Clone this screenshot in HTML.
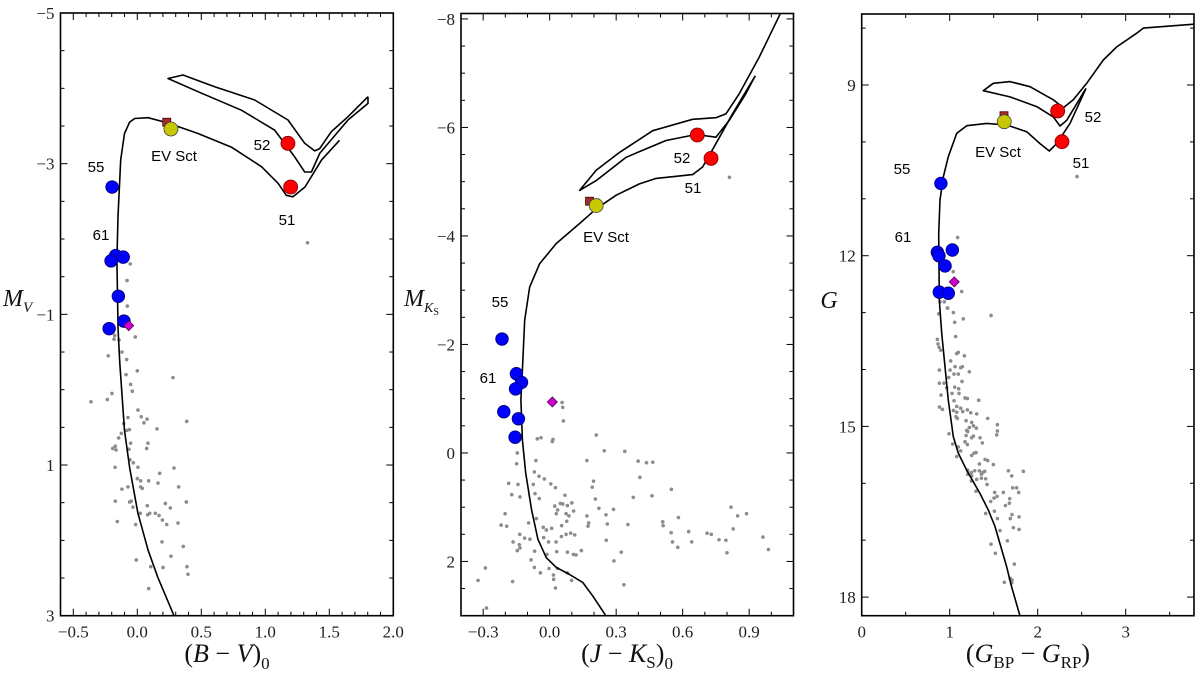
<!DOCTYPE html>
<html><head><meta charset="utf-8"><style>
html,body{margin:0;padding:0;background:#fff;}
svg{display:block;}
.tk{font-family:"Liberation Serif","DejaVu Serif",serif;font-size:17px;fill:#222;}
.lb{font-family:"Liberation Sans",sans-serif;font-size:15px;fill:#000;}
.ax{font-family:"Liberation Serif","DejaVu Serif",serif;fill:#111;}
</style></head><body>
<svg id="fig" width="1200" height="679" viewBox="0 0 1200 679" xmlns="http://www.w3.org/2000/svg"></svg>
<script>
// ---------- Panel 1: (B-V)0 vs M_V ----------
const p1IsoMain=[[0.287,3.0],[0.16,2.49],[0.084,2.13],[0.005,1.64],[-0.06,1.03],[-0.1,0.54],[-0.137,-0.35],[-0.15,-0.79],[-0.159,-1.72],[-0.151,-2.3],[-0.13,-3.05],[-0.1,-3.4],[-0.06,-3.55],[-0.02,-3.6],[0.084,-3.61],[0.24,-3.54],[0.474,-3.40],[0.734,-3.22],[0.97,-2.96],[1.1,-2.74],[1.164,-2.58],[1.216,-2.56],[1.31,-2.69],[1.44,-3.05],[1.58,-3.31]];
const p1IsoLoop=[[1.802,-3.889],[1.646,-3.623],[1.516,-3.424],[1.425,-3.20],[1.386,-3.17],[1.308,-3.27],[1.177,-3.58],[0.917,-3.845],[0.605,-4.02],[0.357,-4.177],[0.24,-4.13],[0.474,-3.955],[0.813,-3.71],[1.073,-3.446],[1.23,-3.09],[1.308,-2.89],[1.36,-2.89],[1.425,-3.137],[1.646,-3.58],[1.802,-3.80],[1.802,-3.889]];
const p1GrayX=[-0.177,-0.182,-0.143,-0.016,-0.227,-0.12,-0.083,0.0,-0.088,0.279,-0.052,-0.039,-0.198,-0.234,-0.362,0.005,-0.073,0.031,0.076,0.052,0.386,-0.106,0.154,-0.062,-0.083,-0.125,-0.146,-0.052,0.083,-0.172,-0.065,-0.166,-0.192,0.073,-0.057,-0.031,-0.174,0.005,0.287,0.175,0,0.026,0.089,0.162,-0.073,0.026,0.039,0.323,-0.12,-0.172,-0.06,-0.047,-0.034,0.078,0.219,0.258,0.383,0.023,0.081,0.097,0.141,0.17,0.196,0.23,0.318,-0.156,-0.013,0.193,0.359,0.263,-0.008,0.105,0.201,0.388,0.396,0.089,-0.055,-0.08,-0.078,1.33];
const p1GrayY=[-0.72,-0.67,-0.66,-0.70,-0.45,-0.50,-0.40,-0.25,-0.20,-0.16,-0.07,0.02,0.05,0.13,0.16,0.27,0.37,0.36,0.39,0.44,0.42,0.45,0.52,0.53,0.54,0.58,0.64,0.71,0.71,0.75,0.79,0.80,0.78,0.78,0.93,0.97,1.03,1.03,1.04,1.11,1.18,1.21,1.21,1.24,1.29,1.29,1.31,1.29,1.32,1.48,1.49,1.48,1.56,1.54,1.51,1.57,1.49,1.64,1.66,1.64,1.64,1.67,1.73,1.79,1.77,1.75,1.79,2.02,2.08,2.21,2.26,2.35,2.36,2.35,2.45,2.64,-1.67,-1.45,-1.11,-1.95];
const p1BlueX=[-0.197,-0.169,-0.11,-0.205,-0.148,-0.104,-0.22];
const p1BlueY=[-2.69,-1.78,-1.76,-1.71,-1.24,-0.91,-0.81];
const p1Red=[[1.177,-3.27],[1.198,-2.69]];
const p1Ev=[0.263,-3.46], p1Sq=[0.23,-3.55], p1Dia=[-0.067,-0.85];

// ---------- Panel 2: (J-Ks)0 vs M_Ks ----------
const p2IsoMain=[[0.252,2.99],[0.195,2.64],[0.15,2.39],[0.09,2.24],[0.03,2.11],[-0.015,1.93],[-0.053,1.59],[-0.082,1.04],[-0.108,0.37],[-0.123,-0.24],[-0.13,-0.98],[-0.123,-1.53],[-0.1125,-2.45],[-0.09,-3.06],[-0.045,-3.49],[0.03,-3.86],[0.135,-4.23],[0.21,-4.50],[0.30,-4.75],[0.405,-4.96],[0.48,-5.06],[0.645,-5.13],[0.69,-5.27],[0.75,-5.70],[0.825,-6.25],[0.927,-6.95]];
const p2IsoLoop=[[1.043,-8.12],[0.945,-7.29],[0.855,-6.62],[0.795,-6.25],[0.75,-6.18],[0.645,-6.15],[0.465,-5.94],[0.315,-5.54],[0.21,-5.21],[0.135,-4.84],[0.21,-5.02],[0.345,-5.45],[0.525,-5.76],[0.66,-5.87],[0.75,-5.82],[0.81,-6.13],[0.885,-6.62],[0.927,-6.95]];
const p2GrayX=[0.056,0.059,0.062,0.21,-0.056,-0.039,0.012,0.015,0.246,0.339,-0.146,-0.062,0.168,0.399,0.437,0.465,-0.149,-0.069,-0.048,-0.024,0.407,0.198,-0.185,-0.143,-0.074,0.005,0.026,0.192,0.549,-0.171,-0.134,-0.066,-0.047,0.069,0.377,0.462,0.206,0.048,0.059,0.08,0.10,0.023,0.222,0.288,0.818,0.036,0.108,0.03,0.074,0.087,0.168,0.254,-0.201,0.848,0.888,0.581,-0.06,-0.095,0.077,0.176,0.26,0.353,0.51,0.512,-0.219,-0.194,-0.029,-0.015,0.009,0.054,0.173,-0.135,0.074,0.095,0.113,0.548,0.627,0.71,0.729,0.828,0.962,-0.113,-0.089,-0.027,0.053,-0.005,0.029,0.255,0.554,0.641,0.764,0.795,-0.165,-0.137,-0.134,-0.146,-0.068,-0.012,0.032,0.08,0.107,0.119,0.143,0.578,0.323,0.80,0.987,-0.084,0.29,-0.069,-0.003,0.035,-0.042,-0.29,0.017,0.08,0.018,-0.323,-0.167,0.099,0.335,0.026,-0.285,0.811];
const p2GrayY=[-0.93,-0.84,-0.59,-0.33,-0.26,-0.28,-0.21,-0.25,-0.04,-0.03,0.0,0.14,0.14,0.15,0.18,0.17,0.20,0.35,0.43,0.48,0.45,0.52,0.56,0.58,0.58,0.57,0.64,0.63,0.67,0.77,0.81,0.75,0.84,0.78,0.82,0.79,0.85,0.93,0.94,0.97,0.92,0.98,1.02,1.04,1.00,1.05,1.07,1.12,1.12,1.16,1.16,1.14,1.12,1.16,1.12,1.19,1.21,1.29,1.26,1.29,1.31,1.32,1.27,1.34,1.33,1.35,1.37,1.42,1.39,1.34,1.35,1.50,1.50,1.48,1.51,1.47,1.45,1.48,1.50,1.40,1.55,1.57,1.59,1.56,1.54,1.64,1.64,1.61,1.64,1.64,1.60,1.61,1.64,1.69,1.75,1.80,1.81,1.87,1.82,1.83,1.87,1.88,1.80,1.74,1.83,1.84,1.78,1.97,1.99,2.11,2.13,2.13,2.21,2.12,2.25,2.21,2.33,2.35,2.37,2.35,2.43,2.49,2.86,-5.08];
const p2BlueX=[-0.215,-0.15,-0.127,-0.154,-0.207,-0.141,-0.156];
const p2BlueY=[-2.10,-1.46,-1.30,-1.18,-0.76,-0.63,-0.29];
const p2Red=[[0.666,-5.86],[0.728,-5.43]];
const p2Ev=[0.21,-4.56], p2Sq=[0.18,-4.64], p2Dia=[0.012,-0.94];

// ---------- Panel 3: (G_BP-G_RP) vs G ----------
const p3IsoMain=[[1.80,18.34],[1.70,17.8],[1.648,17.47],[1.515,16.76],[1.439,16.47],[1.344,16.18],[1.193,15.77],[1.098,15.47],[1.041,15.18],[0.984,14.54],[0.947,13.95],[0.909,13.36],[0.882,12.78],[0.875,11.61],[0.89,11.02],[0.928,10.61],[0.984,10.26],[1.08,9.85],[1.193,9.715],[1.42,9.674],[1.648,9.703],[1.875,9.82],[2.026,10.03],[2.132,10.16],[2.216,10.03],[2.367,9.674],[2.549,9.06]];
const p3IsoLoop=[[3.788,7.93],[3.2,8.00],[3.125,8.09],[2.898,8.33],[2.745,8.56],[2.557,8.97],[2.405,9.26],[2.291,9.40],[2.177,9.26],[1.913,9.03],[1.685,8.94],[1.495,8.97],[1.382,9.10],[1.685,9.21],[1.989,9.38],[2.177,9.56],[2.253,9.72],[2.33,9.62],[2.549,9.06]];
const p3GrayX=[0.89,0.939,0.875,0.977,1.042,1.155,1.057,1.47,1.068,0.86,0.867,0.879,0.898,1.08,1.098,1.167,1.011,1.061,1.125,1.144,1.223,0.883,1.004,1.049,1.098,0.989,1.14,0.883,0.936,0.966,1.057,1.102,0.902,1.027,1.106,1.174,1.201,1.33,1.049,1.08,1.125,0.883,0.917,1.042,1.08,1.148,1.201,1.239,1.307,1.072,1.087,1.186,1.25,1.269,1.432,1.303,1.223,1.193,1.542,1.542,1.534,0.992,1.186,1.205,1.269,1.25,1.345,1.371,1.034,1.174,1.201,1.098,1.125,1.08,1.277,1.299,1.25,1.402,1.432,1.496,1.337,1.205,1.246,1.284,1.337,1.375,1.398,1.36,1.25,1.205,1.246,1.307,1.36,1.409,1.424,1.667,1.705,1.837,1.511,1.61,1.716,1.761,1.784,1.299,1.504,1.538,1.466,1.682,1.678,1.633,1.409,1.508,1.542,1.708,1.689,1.788,1.572,1.655,1.723,1.788,1.47,1.519,1.735,1.686,1.708,1.621,1.705,1.09,1.04,1.136,0.973,2.447];
const p3GrayY=[12.81,12.81,13.02,12.92,13.0,13.11,13.17,13.05,13.42,13.47,13.55,13.61,13.66,13.72,13.70,13.76,13.85,13.95,13.97,13.95,14.04,14.01,14.01,14.08,14.08,14.14,14.21,14.24,14.24,14.32,14.31,14.34,14.45,14.42,14.42,14.50,14.51,14.54,14.55,14.65,14.68,14.66,14.70,14.72,14.75,14.74,14.71,14.76,14.78,14.83,14.86,14.90,14.93,14.99,14.86,15.03,15.02,15.07,14.97,15.08,15.15,15.13,15.16,15.09,15.17,15.20,15.20,15.29,15.31,15.27,15.32,15.36,15.43,15.53,15.47,15.46,15.51,15.58,15.60,15.67,15.66,15.77,15.81,15.78,15.78,15.81,15.79,15.84,15.87,15.84,15.96,15.93,15.91,15.92,16.02,15.78,15.87,15.79,16.16,16.16,16.08,16.08,16.16,16.14,16.26,16.23,16.32,16.27,16.35,16.39,16.53,16.49,16.62,16.55,16.62,16.59,16.83,17.01,16.78,16.81,17.07,17.23,17.42,17.67,17.70,17.74,17.75,11.68,12.28,12.63,12.92,10.61];
const p3BlueX=[0.90,0.86,0.878,1.03,0.947,0.882,0.984];
const p3BlueY=[10.73,11.94,12.0,11.90,12.18,12.64,12.66];
const p3Red=[[2.227,9.457],[2.276,9.996]];
const p3Ev=[1.62,9.645], p3Sq=[1.617,9.54], p3Dia=[1.052,12.46];

// tick labels
const p1XTicks=[-0.5,0,0.5,1,1.5,2], p1XTickLabels=["\u22120.5","0.0","0.5","1.0","1.5","2.0"];
const p1YTicks=[-5,-3,-1,1,3], p1YTickLabels=["\u22125","\u22123","\u22121","1","3"];
const p2XTicks=[-0.3,0,0.3,0.6,0.9], p2XTickLabels=["\u22120.3","0.0","0.3","0.6","0.9"];
const p2YTicks=[-8,-6,-4,-2,0,2], p2YTickLabels=["\u22128","\u22126","\u22124","\u22122","0","2"];
const p3XTicks=[0,1,2,3], p3XTickLabels=["0","1","2","3"];
const p3YTicks=[9,12,15,18], p3YTickLabels=["9","12","15","18"];

const NS="http://www.w3.org/2000/svg";
const fig=document.getElementById('fig');
function mk(tag,attrs,parent){const e=document.createElementNS(NS,tag);for(const k in attrs)e.setAttribute(k,attrs[k]);(parent||fig).appendChild(e);return e;}

function panel(cfg){
  const g=mk('g',{});
  
  
  const sx=v=>cfg.L+(v-cfg.x0)/(cfg.x1-cfg.x0)*(cfg.R-cfg.L);
  const sy=v=>cfg.T+(v-cfg.y0)/(cfg.y1-cfg.y0)*(cfg.B-cfg.T);
  const clipId=cfg.name+'-clip';
  const cp=mk('clipPath',{id:clipId},g);mk('rect',{x:cfg.L,y:cfg.T,width:cfg.R-cfg.L,height:cfg.B-cfg.T},cp);
  const plot=mk('g',{'clip-path':'url(#'+clipId+')'},g);
  for(let i=0;i<cfg.gx.length;i++){
    const c=mk('circle',{cx:sx(cfg.gx[i]),cy:sy(cfg.gy[i]),r:1.8,fill:'#8c8c8c'},plot);
    
    
  }
  [cfg.iso1,cfg.iso2].forEach((arr,k)=>{
    const p=mk('path',{d:arr.map((q,i)=>(i?'L':'M')+sx(q[0]).toFixed(1)+' '+sy(q[1]).toFixed(1)).join(' '),fill:'none',stroke:'#000','stroke-width':1.6,'stroke-linejoin':'round'},plot);
    
    
  });
  for(let i=0;i<cfg.bx.length;i++){
    const c=mk('circle',{cx:sx(cfg.bx[i]),cy:sy(cfg.by[i]),r:6.3,fill:'#0000ff',stroke:'#00006a','stroke-width':0.8},plot);
    
    
  }
  cfg.red.forEach(q=>{
    const c=mk('circle',{cx:sx(q[0]),cy:sy(q[1]),r:7,fill:'#ff0000',stroke:'#700','stroke-width':0.8},plot);
    
    
  });
  const sq=mk('rect',{x:sx(cfg.sq[0])-4,y:sy(cfg.sq[1])-4,width:8,height:8,fill:'#a52a2a',stroke:'#400','stroke-width':0.8},plot);
  
  
  const ev=mk('circle',{cx:sx(cfg.ev[0]),cy:sy(cfg.ev[1]),r:7,fill:'#c8c800',stroke:'#444','stroke-width':0.8},plot);
  
  
  const dx=sx(cfg.dia[0]),dy=sy(cfg.dia[1]);
  const di=mk('polygon',{points:`${dx},${dy-5} ${dx+5},${dy} ${dx},${dy+5} ${dx-5},${dy}`,fill:'#d000d0',stroke:'#500050','stroke-width':0.8},plot);
  
  
  const fr=mk('rect',{x:cfg.L,y:cfg.T,width:cfg.R-cfg.L,height:cfg.B-cfg.T,fill:'none',stroke:'#000','stroke-width':1.6},g);
  
  
  const tk=(x1,y1,x2,y2)=>mk('line',{x1,y1,x2,y2,stroke:'#000','stroke-width':1},g);
  for(let v=cfg.xmin0;v<=cfg.x1+1e-9;v+=cfg.xminor){const X=sx(v);if(X<cfg.L-0.5)continue;const maj=cfg.xt.some(t=>Math.abs(t-v)<1e-6);const len=maj?7:4;tk(X,cfg.B,X,cfg.B-len);tk(X,cfg.T,X,cfg.T+len);}
  const ylo=Math.min(cfg.y0,cfg.y1),yhi=Math.max(cfg.y0,cfg.y1);
  for(let v=cfg.ymin0;v<=yhi+1e-9;v+=cfg.yminor){if(v<ylo-1e-9)continue;const Y=sy(v);const maj=cfg.yt.some(t=>Math.abs(t-v)<1e-6);const len=maj?7:4;tk(cfg.L,Y,cfg.L+len,Y);tk(cfg.R,Y,cfg.R-len,Y);}
  cfg.xt.forEach((v,i)=>{const t=mk('text',{x:sx(v),y:cfg.B+22,'text-anchor':'middle',class:'tk'},g);t.textContent=cfg.xtl[i];
    
    });
  cfg.yt.forEach((v,i)=>{const t=mk('text',{x:cfg.L-6,y:sy(v)+6,'text-anchor':'end',class:'tk'},g);t.textContent=cfg.ytl[i];
    
    });
  cfg.labels.forEach(l=>{const t=mk('text',{x:l[1],y:l[2],'text-anchor':'middle',class:'lb'},g);t.textContent=l[0];
    
    });
  return g;
}

panel({name:'panel-bv',L:60.5,R:393.3,T:13,B:615.7,x0:-0.6,x1:2.0,y0:-5,y1:3,iso1:p1IsoMain,iso2:p1IsoLoop,gx:p1GrayX,gy:p1GrayY,bx:p1BlueX,by:p1BlueY,red:p1Red,ev:p1Ev,sq:p1Sq,dia:p1Dia,
  xt:p1XTicks,xtl:p1XTickLabels,yt:p1YTicks,ytl:p1YTickLabels,xmin0:-0.6,xminor:0.1,ymin0:-5,yminor:0.5,
  labels:[["55",96,172],["61",101,240],["EV Sct",174,161],["52",262,150],["51",287,225]]});
panel({name:'panel-jk',L:461,R:793.5,T:13.5,B:615.7,x0:-0.4,x1:1.1,y0:-8.1,y1:3,iso1:p2IsoMain,iso2:p2IsoLoop,gx:p2GrayX,gy:p2GrayY,bx:p2BlueX,by:p2BlueY,red:p2Red,ev:p2Ev,sq:p2Sq,dia:p2Dia,
  xt:p2XTicks,xtl:p2XTickLabels,yt:p2YTicks,ytl:p2YTickLabels,xmin0:-0.4,xminor:0.1,ymin0:-8,yminor:0.5,
  labels:[["55",500,307],["61",488,383],["EV Sct",606,242],["52",682,163],["51",693,193]]});
panel({name:'panel-gaia',L:861.7,R:1194,T:14,B:615.7,x0:0,x1:(1194-861.7)/88,y0:9-(85-14)/56.9,y1:9+(615.7-85)/56.9,iso1:p3IsoMain,iso2:p3IsoLoop,gx:p3GrayX,gy:p3GrayY,bx:p3BlueX,by:p3BlueY,red:p3Red,ev:p3Ev,sq:p3Sq,dia:p3Dia,
  xt:p3XTicks,xtl:p3XTickLabels,yt:p3YTicks,ytl:p3YTickLabels,xmin0:0,xminor:0.5,ymin0:8,yminor:1,
  labels:[["55",902,174],["61",903,242],["EV Sct",998,157],["52",1093,122],["51",1081,168]]});

function title(html,x,y,name,anchor,size){
  const t=mk('text',{x,y,'text-anchor':anchor||'middle',class:'ax','font-size':size||26});
  t.innerHTML=html;
  
  
}
title('(<tspan font-style="italic">B</tspan> − <tspan font-style="italic">V</tspan>)<tspan font-size="17" dy="7">0</tspan>',227,662,'x-axis-title-bv');
title('(<tspan font-style="italic">J</tspan> − <tspan font-style="italic">K</tspan><tspan font-size="17" dy="6">S</tspan><tspan dy="-6">)</tspan><tspan font-size="17" dy="7">0</tspan>',627,662,'x-axis-title-jk');
title('(<tspan font-style="italic">G</tspan><tspan font-size="17" dy="6">BP</tspan><tspan dy="-6"> − </tspan><tspan font-style="italic">G</tspan><tspan font-size="17" dy="6">RP</tspan><tspan dy="-6">)</tspan>',1028,662,'x-axis-title-gaia');
title('<tspan font-style="italic">M</tspan><tspan font-size="15" font-style="italic" dy="6">V</tspan>',3,306,'y-axis-title-mv','start',24);
title('<tspan font-style="italic">M</tspan><tspan font-size="14" font-style="italic" dy="6">K</tspan><tspan font-size="10" dy="3">S</tspan>',404,306,'y-axis-title-mks','start',24);
title('<tspan font-style="italic">G</tspan>',829,308,'y-axis-title-g','middle',24);
</script>
</body></html>
